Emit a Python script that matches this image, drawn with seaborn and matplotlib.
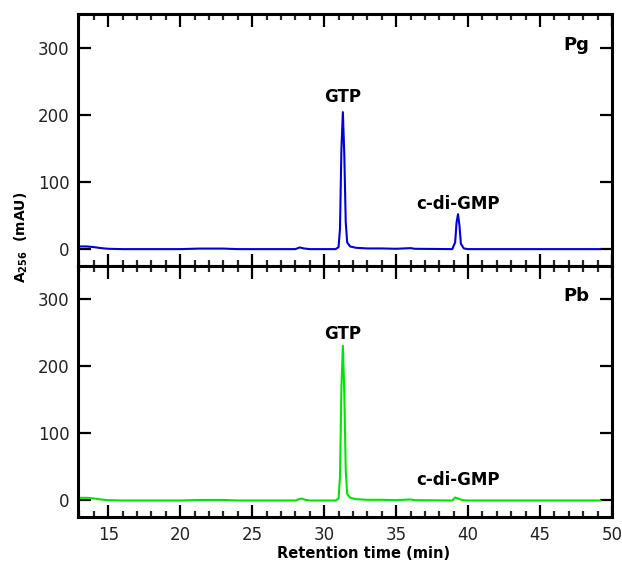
import matplotlib
matplotlib.use("Agg")
import matplotlib.pyplot as plt
import seaborn as sns
import pandas as pd
from matplotlib.ticker import MultipleLocator

# Retention time (min) and absorbance (mAU)
pg_time = [13.0, 13.5, 14.0, 14.5, 15.0, 16.0, 20.0, 21.3, 23.0, 24.0, 28.0, 28.3, 28.6, 29.0,
           30.8, 31.0, 31.1, 31.2, 31.3, 31.4, 31.5, 31.6, 31.8, 32.2, 33.0, 34.0, 35.0, 36.0,
           36.3, 38.9, 39.1, 39.2, 39.3, 39.4, 39.5, 39.7, 40.0, 49.2]
pg_abs = [4.0, 4.0, 3.0, 1.5, 0.5, 0.0, 0.0, 0.8, 0.8, 0.0, 0.0, 2.5, 1.0, 0.0,
          0.0, 3.0, 30.0, 150.0, 204.0, 140.0, 40.0, 10.0, 4.0, 2.0, 1.0, 1.0, 0.5, 1.5,
          0.5, 0.0, 10.0, 40.0, 52.0, 35.0, 8.0, 1.0, 0.0, 0.0]

pb_time = [13.0, 13.5, 14.0, 14.5, 15.0, 16.0, 20.0, 21.3, 23.0, 24.0, 28.0, 28.4, 28.7, 29.0,
           30.8, 31.0, 31.1, 31.2, 31.3, 31.4, 31.5, 31.6, 31.8, 32.2, 33.0, 34.0, 35.0, 36.0,
           36.3, 38.9, 39.1, 39.3, 39.6, 40.0, 49.2]
pb_abs = [4.0, 4.0, 3.0, 1.5, 0.5, 0.0, 0.0, 0.8, 0.8, 0.0, 0.0, 3.0, 1.0, 0.0,
          0.0, 3.0, 35.0, 170.0, 231.0, 160.0, 45.0, 10.0, 4.0, 2.0, 1.0, 1.0, 0.5, 1.5,
          0.5, 0.0, 4.5, 3.0, 0.5, 0.0, 0.0]

panels = [
    dict(name="Pg", t=pg_time, a=pg_abs, color="#0000dd",
         gtp=(31.3, 226), cdg=(39.3, 67), lab_y=304),
    dict(name="Pb", t=pb_time, a=pb_abs, color="#00e600",
         gtp=(31.3, 249), cdg=(39.3, 30), lab_y=305),
]

sns.set_style("ticks")
plt.rcParams['font.family'] = ['DejaVu Sans']
plt.rcParams['text.color'] = 'black'

fig = plt.figure(figsize=(6.22, 5.61), dpi=100)
left, right = 0.1254, 0.984
tops = [0.975, 0.526]
bots = [0.526, 0.078]

for i, p in enumerate(panels):
    ax = fig.add_axes([left, bots[i], right - left, tops[i] - bots[i]])
    df = pd.DataFrame({"t": p["t"], "a": p["a"]})
    sns.lineplot(data=df, x="t", y="a", ax=ax, color=p["color"], linewidth=1.5)
    ax.set_xlim(12.9, 50)
    ax.set_ylim(-25, 350)
    ax.xaxis.set_major_locator(MultipleLocator(5))
    ax.xaxis.set_minor_locator(MultipleLocator(1))
    ax.set_yticks([0, 100, 200, 300])
    ax.tick_params(axis="both", which="major", direction="in", length=9, width=1.6,
                   top=True, right=True, labelsize=12, pad=6, colors="black",
                   labelcolor="#222222")
    ax.tick_params(axis="x", which="minor", direction="in", length=4.5, width=1.6,
                   top=True, bottom=True)
    for s in ax.spines.values():
        s.set_linewidth(2.2)
        s.set_color("black")
    ax.set_xlabel("")
    ax.set_ylabel("")
    if i == 0:
        ax.tick_params(axis="x", labelbottom=False)
    ax.text(p["gtp"][0], p["gtp"][1], "GTP", ha="center", va="center",
            fontsize=12, fontweight="bold", color="black")
    ax.text(p["cdg"][0], p["cdg"][1], "c-di-GMP", ha="center", va="center",
            fontsize=12, fontweight="bold", color="black")
    ax.text(48.4, p["lab_y"], p["name"], ha="right", va="center",
            fontsize=13, fontweight="bold", color="black")

fig.text(0.035, 0.577, r"A$_{\mathregular{256}}$  (mAU)", rotation=90, ha="center", va="center",
         fontsize=10, fontweight="bold", color="black")
fig.text(0.584, 0.014, "Retention time (min)", ha="center", va="center",
         fontsize=10.5, fontweight="bold", color="black")

fig.savefig("out.png", dpi=100)
